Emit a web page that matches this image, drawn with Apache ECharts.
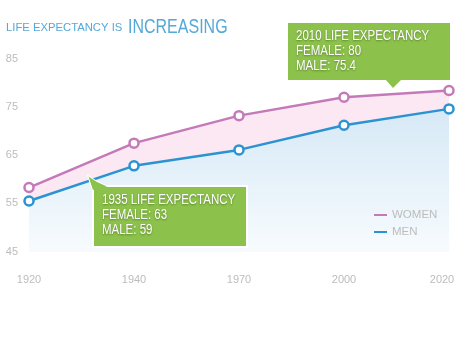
<!DOCTYPE html>
<html>
<head>
<meta charset="utf-8">
<script src="https://cdn.jsdelivr.net/npm/echarts@6/dist/echarts.min.js"></script>
<style>html,body{margin:0;padding:0;background:#fff}#c{width:476px;height:359px}</style>
</head>
<body>
<div id="c"></div>
<script>
var categories = ['1920', '1940', '1970', '2000', '2020'];
var women = [58.3, 67.5, 73.2, 77.0, 78.4];
var men = [55.5, 62.8, 66.1, 71.2, 74.6];
var yTicks = [45, 55, 65, 75, 85];

var SANS = '"Liberation Sans", Arial, sans-serif';
var GREEN = '#8cc24b';
var PINK = '#c47ab8';
var BLUE = '#2c93d3';
var GRAY = '#bcbcbc';
var TITLE = '#55a8d8';

var chart = echarts.init(document.getElementById('c'), null, {renderer: 'canvas'});

function callout(lines, box, pointer) {
  var txtStyle = {
    text: lines.join('\n'),
    fill: '#fff',
    font: '14px ' + SANS,
    lineHeight: 15,
    textShadowColor: 'rgba(0,0,0,0.35)',
    textShadowBlur: 2,
    textShadowOffsetY: 1
  };
  return [
    {type: 'polygon', shape: {points: pointer}, style: {fill: GREEN, stroke: '#fff', lineWidth: 2}, z: 100},
    {type: 'rect', shape: {x: box[0], y: box[1], width: box[2], height: box[3]}, style: {fill: GREEN, stroke: '#fff', lineWidth: 2}, z: 101},
    {type: 'polygon', shape: {points: pointer}, style: {fill: GREEN}, z: 102},
    {type: 'text', x: box[0] + 9, y: box[1] + 7, scaleX: 0.82, style: txtStyle, z: 103}
  ];
}

var graphics = [
  {type: 'text', x: 6, y: 34, z: 100, scaleX: 0.98,
   style: {text: 'LIFE EXPECTANCY IS', font: '11.5px ' + SANS, fill: TITLE, verticalAlign: 'bottom'}},
  {type: 'text', x: 128, y: 37, z: 100, scaleX: 0.8,
   style: {text: 'INCREASING', font: '20px ' + SANS, fill: TITLE, verticalAlign: 'bottom'}}
].concat(
  callout(['2010 LIFE EXPECTANCY', 'FEMALE: 80', 'MALE: 75.4'], [287, 22, 164, 59], [[386, 80], [401, 80], [393, 88]]),
  callout(['1935 LIFE EXPECTANCY', 'FEMALE: 63', 'MALE: 59'], [93, 186, 154, 61], [[88.5, 176.5], [97, 182], [107, 186.5], [93, 190]])
);

var option = {
  backgroundColor: '#fff',
  animation: false,
  grid: {left: 29, right: 27, top: 58.7, bottom: 107.3, containLabel: false},
  legend: {
    orient: 'vertical',
    left: 374, top: 209,
    padding: 0,
    icon: 'rect',
    itemWidth: 13, itemHeight: 2,
    itemGap: 5,
    textStyle: {color: GRAY, fontSize: 11.5, fontFamily: SANS},
    data: [
      {name: 'WOMEN', itemStyle: {color: PINK, borderWidth: 0}},
      {name: 'MEN', itemStyle: {color: BLUE, borderWidth: 0}}
    ]
  },
  xAxis: {
    type: 'category',
    boundaryGap: false,
    data: categories.map(function (c, i) {
      return i === categories.length - 1 ? {value: c, textStyle: {padding: [0, 14, 0, 0]}} : c;
    }),
    axisLine: {show: false},
    axisTick: {show: false},
    splitLine: {show: false},
    axisLabel: {color: GRAY, fontSize: 11, fontFamily: SANS, margin: 23, interval: 0}
  },
  yAxis: {
    type: 'value',
    min: yTicks[0], max: yTicks[yTicks.length - 1], interval: 10,
    axisLine: {show: false},
    axisTick: {show: false},
    splitLine: {show: false},
    axisLabel: {color: GRAY, fontSize: 11, fontFamily: SANS, margin: 11, align: 'right'}
  },
  series: [
    {
      name: 'WOMEN', type: 'line', data: women, z: 2,
      symbol: 'circle', symbolSize: 9,
      itemStyle: {color: '#fff', borderColor: PINK, borderWidth: 2.5},
      lineStyle: {color: PINK, width: 2.5},
      areaStyle: {color: '#fce8f2', opacity: 1}
    },
    {
      name: 'MEN', type: 'line', data: men, z: 3,
      symbol: 'circle', symbolSize: 9,
      itemStyle: {color: '#fff', borderColor: BLUE, borderWidth: 2.5},
      lineStyle: {color: BLUE, width: 2.5},
      areaStyle: {
        opacity: 1,
        color: new echarts.graphic.LinearGradient(0, 0, 0, 1, [
          {offset: 0, color: '#d6e9f6'},
          {offset: 1, color: '#f7fbfe'}
        ])
      }
    }
  ],
  graphic: graphics
};
chart.setOption(option);
</script>
</body>
</html>
